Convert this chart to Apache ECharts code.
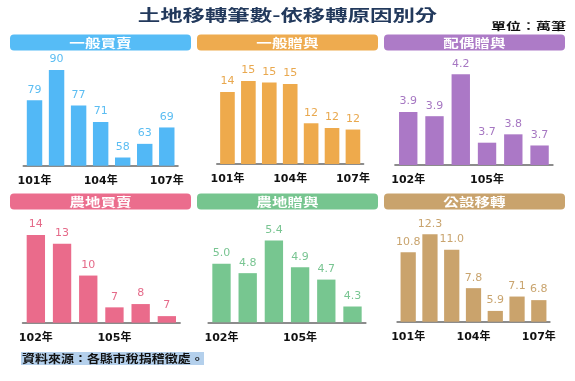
<!DOCTYPE html>
<html>
<head>
<meta charset="utf-8">
<script src="https://cdn.jsdelivr.net/npm/echarts@6/dist/echarts.min.js"></script>
<style>html,body{margin:0;padding:0;background:#fff}#c{width:575px;height:381px}</style>
</head>
<body>
<div id="c"></div>
<script>
// ---- data ----
const years7 = ['101年', '102年', '103年', '104年', '105年', '106年', '107年'];
const years6 = ['102年', '103年', '104年', '105年', '106年', '107年'];
const panelTitles = ['一般買賣', '一般贈與', '配偶贈與', '農地買賣', '農地贈與', '公設移轉'];
const generalSale = [79, 90, 77, 71, 58, 63, 69];
const generalGift = [14.4, 15.1, 15.0, 14.9, 12.4, 12.1, 12.0];
const spouseGift = [3.93, 3.90, 4.20, 3.71, 3.77, 3.69];
const farmSale = [14.0, 13.2, 10.3, 7.4, 7.7, 6.6];
const farmGift = [5.0, 4.84, 5.4, 4.94, 4.73, 4.27];
const publicTransfer = [10.8, 12.3, 11.0, 7.8, 5.9, 7.1, 6.8];
const mainTitle = '土地移轉筆數-依移轉原因別分';
const unitText = '單位：萬筆';
const sourceText = '資料來源：各縣市稅捐稽徵處。';

// ---- layout / style ----
const panels = [
  {cats: years7, data: generalSale, dec: 0, min: 55, max: 93.7, left: 23.5, top: 60, width: 154.3, height: 105.7, color: '#52b8f6', label: '#5bbdf2', head: '#56bcf6'},
  {cats: years7, data: generalGift, dec: 0, min: 9.8, max: 16.44, left: 217, top: 60, width: 146.4, height: 104, color: '#eeaa4c', label: '#e9a84e', head: '#eeab4f'},
  {cats: years6, data: spouseGift, dec: 1, min: 3.55, max: 4.303, left: 395.1, top: 60, width: 157.6, height: 105, color: '#ab78c6', label: '#a677c2', head: '#ad7bc7'},
  {cats: years6, data: farmSale, dec: 0, min: 6, max: 15.64, left: 22.75, top: 217, width: 157.2, height: 105.7, color: '#ea6b8b', label: '#e56a89', head: '#eb6d8d'},
  {cats: years6, data: farmGift, dec: 1, min: 4.0, max: 5.8, left: 208.4, top: 217, width: 157.2, height: 105.3, color: '#77c690', label: '#79c592', head: '#76c58f'},
  {cats: years7, data: publicTransfer, dec: 1, min: 5.0, max: 13.74, left: 397.3, top: 217, width: 152.4, height: 104.7, color: '#caa36c', label: '#c9a46e', head: '#c9a36d'}
];
const headX = [10, 197, 384];
const headY = [34.5, 193.5];

const grids = [], xAxes = [], yAxes = [], series = [], graphics = [];
panels.forEach((p, i) => {
  grids.push({left: p.left, top: p.top, width: p.width, height: p.height, containLabel: false});
  xAxes.push({
    type: 'category', gridIndex: i, data: p.cats,
    axisLine: {show: true, onZero: false, lineStyle: {color: '#8c8c8c', width: 2}},
    axisTick: {show: false},
    axisLabel: {interval: 2, margin: 10, color: '#111', fontSize: 11, fontWeight: 'bold', fontFamily: 'DejaVu Sans, Noto Sans CJK TC, sans-serif'}
  });
  yAxes.push({type: 'value', gridIndex: i, min: p.min, max: p.max, startValue: p.min, show: false, splitLine: {show: false}});
  series.push({
    type: 'bar', xAxisIndex: i, yAxisIndex: i, data: p.data, barWidth: '70%',
    itemStyle: {color: p.color}, clip: true,
    label: {show: true, position: 'top', distance: 5, color: p.label, fontSize: 11, fontFamily: 'DejaVu Sans, sans-serif',
      formatter: (o) => Number(o.value).toFixed(p.dec)}
  });
  const hx = headX[i % 3], hy = headY[Math.floor(i / 3)];
  graphics.push({type: 'rect', shape: {x: hx, y: hy, width: 181, height: 16, r: 4}, style: {fill: p.head}, z: 1});
  graphics.push({type: 'text', x: hx + 90.5, y: hy + 8.5, scaleX: 1.3, z: 2,
    style: {text: panelTitles[i], align: 'center', verticalAlign: 'middle', fill: '#fff', fontSize: 12, fontWeight: 'bold', fontFamily: 'Noto Sans CJK TC, sans-serif'}});
});

graphics.push({type: 'text', x: 287.5, y: 15, scaleX: 1.4, z: 2,
  style: {text: mainTitle, align: 'center', verticalAlign: 'middle', fill: '#22395c', fontSize: 16, fontWeight: 'bold', fontFamily: 'Noto Sans CJK TC, sans-serif'}});
graphics.push({type: 'text', x: 566, y: 26, scaleX: 1.5, z: 2,
  style: {text: unitText, align: 'right', verticalAlign: 'middle', fill: '#111', fontSize: 10, fontWeight: 'bold', fontFamily: 'Noto Sans CJK TC, sans-serif'}});
graphics.push({type: 'rect', shape: {x: 21, y: 352, width: 183, height: 13}, style: {fill: '#b4d0ec'}, z: 1});
graphics.push({type: 'text', x: 22, y: 358.5, scaleX: 1.18, z: 2,
  style: {text: sourceText, align: 'left', verticalAlign: 'middle', fill: '#111', fontSize: 11, fontWeight: 'bold', fontFamily: 'Noto Sans CJK TC, sans-serif'}});

const chart = echarts.init(document.getElementById('c'), null, {renderer: 'canvas'});
chart.setOption({
  animation: false,
  backgroundColor: '#fff',
  grid: grids, xAxis: xAxes, yAxis: yAxes, series: series,
  graphic: graphics
});
</script>
</body>
</html>
